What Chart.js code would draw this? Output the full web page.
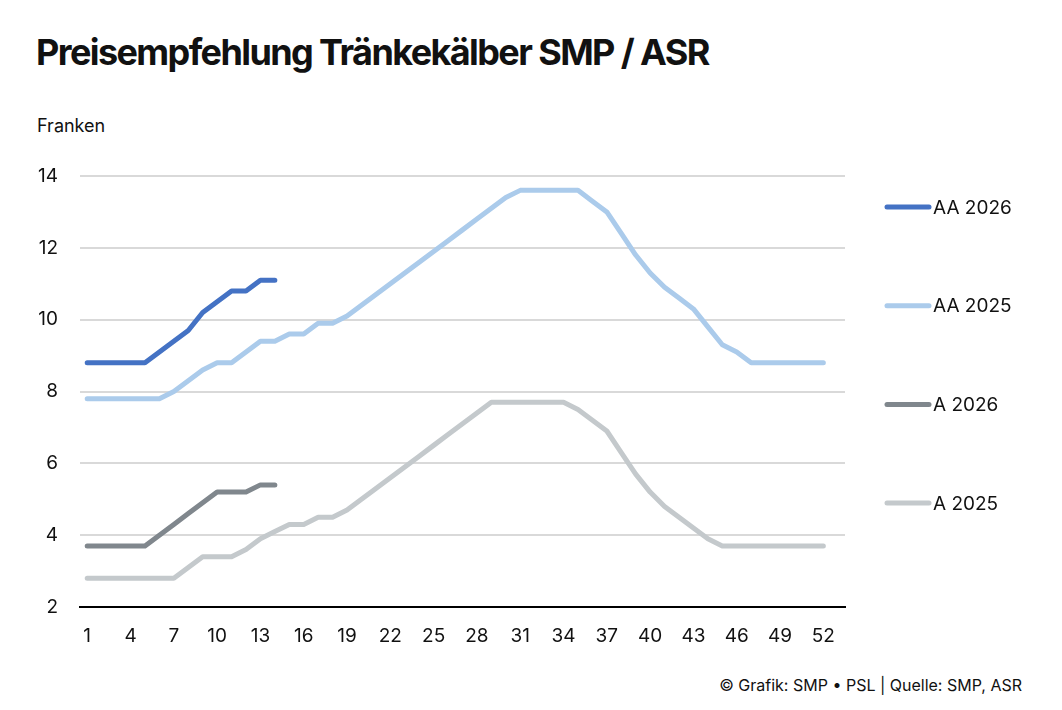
<!DOCTYPE html>
<html>
<head>
<meta charset="utf-8">
<script src="https://cdn.jsdelivr.net/npm/chart.js@4.4.1/dist/chart.umd.min.js"></script>
<style>
  html, body { margin: 0; padding: 0; background: #fff; }
  body { width: 1062px; height: 710px; position: relative; overflow: hidden; font-family: Inter, "Noto Sans", sans-serif; color: #111; }
  #title { position: absolute; left: 36px; top: 30px; font-size: 36px; font-weight: 700; letter-spacing: -1.6px; white-space: nowrap; }
  #unit { position: absolute; left: 37px; top: 115px; font-size: 18px; }
  #source { position: absolute; right: 40px; top: 675px; font-size: 16px; }
  #wrap { position: absolute; left: 0; top: 0; width: 1062px; height: 710px; }
</style>
</head>
<body>
<div id="title">Preisempfehlung Tränkekälber SMP / ASR</div>
<div id="unit">Franken</div>
<div id="source">© Grafik: SMP • PSL | Quelle: SMP, ASR</div>
<div id="wrap"><canvas id="chart"></canvas></div>
<script>
const weeks = [1, 2, 3, 4, 5, 6, 7, 8, 9, 10, 11, 12, 13, 14, 15, 16, 17, 18, 19, 20,
  21, 22, 23, 24, 25, 26, 27, 28, 29, 30, 31, 32, 33, 34, 35, 36, 37, 38, 39, 40,
  41, 42, 43, 44, 45, 46, 47, 48, 49, 50, 51, 52, 53];

const aa2026 = [8.8, 8.8, 8.8, 8.8, 8.8, 9.1, 9.4, 9.7, 10.2, 10.5, 10.8, 10.8, 11.1, 11.1];

const aa2025 = [7.8, 7.8, 7.8, 7.8, 7.8, 7.8, 8.0, 8.3, 8.6, 8.8, 8.8, 9.1, 9.4, 9.4, 9.6, 9.6,
  9.9, 9.9, 10.1, 10.4, 10.7, 11.0, 11.3, 11.6, 11.9, 12.2, 12.5, 12.8, 13.1, 13.4,
  13.6, 13.6, 13.6, 13.6, 13.6, 13.3, 13.0, 12.4, 11.8, 11.3, 10.9, 10.6, 10.3, 9.8,
  9.3, 9.1, 8.8, 8.8, 8.8, 8.8, 8.8, 8.8];

const a2026 = [3.7, 3.7, 3.7, 3.7, 3.7, 4.0, 4.3, 4.6, 4.9, 5.2, 5.2, 5.2, 5.4, 5.4];

const a2025 = [2.8, 2.8, 2.8, 2.8, 2.8, 2.8, 2.8, 3.1, 3.4, 3.4, 3.4, 3.6, 3.9, 4.1, 4.3, 4.3,
  4.5, 4.5, 4.7, 5.0, 5.3, 5.6, 5.9, 6.2, 6.5, 6.8, 7.1, 7.4, 7.7, 7.7, 7.7, 7.7,
  7.7, 7.7, 7.5, 7.2, 6.9, 6.3, 5.7, 5.2, 4.8, 4.5, 4.2, 3.9, 3.7, 3.7, 3.7, 3.7,
  3.7, 3.7, 3.7, 3.7];

const yTicks = [2, 4, 6, 8, 10, 12, 14];

const seriesNames = ["AA 2026", "AA 2025", "A 2026", "A 2025"];
const seriesColors = ["#4472c4", "#abcbeb", "#80878d", "#c4c9cc"];
const seriesData = [aa2026, aa2025, a2026, a2025];

const FONT = "Inter, 'Noto Sans', sans-serif";

// legend drawn at the right, one entry per dataset
const sideLegend = {
  id: "sideLegend",
  afterDraw(chart) {
    const ctx = chart.ctx;
    const x0 = 887, x1 = 929, top = 207, gap = 98.7;
    ctx.save();
    chart.data.datasets.forEach((ds, i) => {
      const y = top + i * gap;
      ctx.strokeStyle = ds.borderColor;
      ctx.lineWidth = 5;
      ctx.lineCap = "round";
      ctx.beginPath();
      ctx.moveTo(x0, y);
      ctx.lineTo(x1, y);
      ctx.stroke();
      ctx.fillStyle = "#111";
      ctx.font = "19px " + FONT;
      ctx.textBaseline = "middle";
      ctx.fillText(ds.label, x1 + 4, y + 1);
    });
    ctx.restore();
  }
};

new Chart(document.getElementById("chart"), {
  type: "line",
  data: {
    labels: weeks,
    datasets: seriesNames.map((name, i) => ({
      label: name,
      data: seriesData[i],
      borderColor: seriesColors[i],
      backgroundColor: seriesColors[i],
      borderWidth: 5,
      borderCapStyle: "round",
      borderJoinStyle: "round",
      pointRadius: 0,
      tension: 0,
      fill: false
    }))
  },
  options: {
    responsive: true,
    maintainAspectRatio: false,
    animation: false,
    events: [],
    layout: { padding: { left: 0, right: 217, top: 176, bottom: 61 } },
    plugins: {
      legend: { display: false },
      tooltip: { enabled: false }
    },
    scales: {
      x: {
        type: "category",
        offset: true,
        grid: { display: true, color: "transparent", drawTicks: false },
        border: { display: true, color: "#000", width: 2 },
        ticks: {
          autoSkip: false,
          maxRotation: 0,
          padding: 18,
          color: "#111",
          font: { family: FONT, size: 19 },
          callback: (v, idx) => idx % 3 === 0 ? weeks[idx] : ""
        },
        afterFit: (scale) => { scale.height = 42; }
      },
      y: {
        min: 2,
        max: 14,
        afterBuildTicks: (scale) => { scale.ticks = yTicks.map(v => ({ value: v })); },
        grid: {
          color: (c) => c.tick && c.tick.value === 2 ? "transparent" : "#d9d9d9",
          lineWidth: 2,
          drawTicks: false
        },
        border: { display: false },
        ticks: {
          padding: 22,
          color: "#111",
          font: { family: FONT, size: 19 }
        },
        afterFit: (scale) => { scale.width = 80; }
      }
    }
  },
  plugins: [sideLegend]
});
</script>
</body>
</html>
